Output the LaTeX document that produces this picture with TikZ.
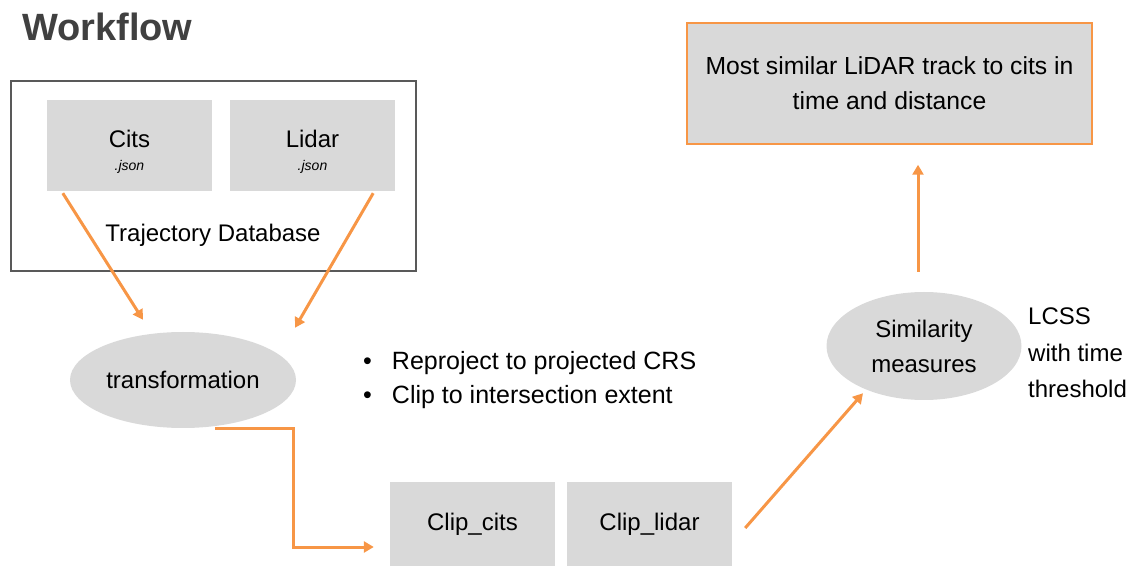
\documentclass[tikz,border=0pt]{standalone}
\usepackage{fontspec}
\setmainfont{Liberation Sans}
\usetikzlibrary{arrows.meta,shapes.geometric,calc}
\definecolor{boxgray}{HTML}{D9D9D9}
\definecolor{orng}{HTML}{F79646}
\definecolor{framegray}{HTML}{595959}
\definecolor{titlegray}{HTML}{404040}
\begin{document}
\begin{tikzpicture}[x=1pt,y=-1pt,
  graybox/.style={fill=boxgray, inner sep=0pt, font=\fontsize{24}{28}\selectfont, align=center},
  grayell/.style={ellipse, fill=boxgray, inner sep=0pt, font=\fontsize{24}{35}\selectfont, align=center},
  txt/.style={inner sep=0pt, font=\fontsize{24}{28}\selectfont},
  smalltxt/.style={inner sep=0pt, font=\fontsize{14}{16}\selectfont\itshape},
  flow/.style={draw=orng, line width=3pt, -{Triangle[length=10pt,width=11pt]}}]
\useasboundingbox (0,0) rectangle (1136,569);

% title
\node[anchor=base west, inner sep=0pt, font=\fontsize{38}{40}\selectfont\bfseries, text=titlegray] (title) at (22,41) {Workflow};

% trajectory database frame
\node[draw=framegray, line width=2.5pt, minimum width=405pt, minimum height=190pt, inner sep=0pt] (db) at (213.5,176) {};
\node[graybox, minimum width=165pt, minimum height=91pt] (cits) at (129.5,145.5) {};
\node[graybox, minimum width=165pt, minimum height=91pt] (lidar) at (312.5,145.5) {};
\node[txt, anchor=base] (citsT) at (129.5,148) {Cits};
\node[smalltxt, anchor=base] (citsJ) at (129.5,171) {.json};
\node[txt, anchor=base] (lidarT) at (312.5,148) {Lidar};
\node[smalltxt, anchor=base] (lidarJ) at (312.5,171) {.json};
\node[txt, anchor=base] (dbT) at (213,242) {Trajectory Database};

% transformation
\node[grayell, minimum width=226pt, minimum height=96pt] (trans) at (183,380) {transformation};
\node[anchor=base west, inner sep=0pt, font=\fontsize{25}{34}\selectfont] (bul) at (363,370)
  {\begin{tabular}[t]{@{}l@{\hspace{20pt}}l@{}}\textbullet & Reproject to projected CRS\\ \textbullet & Clip to intersection extent\end{tabular}};

% clipped tracks
\node[graybox, minimum width=165pt, minimum height=84pt] (clipc) at (472.5,524) {Clip\_cits};
\node[graybox, minimum width=165pt, minimum height=84pt] (clipl) at (649.5,524) {Clip\_lidar};

% similarity
\node[grayell, minimum width=195pt, minimum height=108pt] (sim) at (924,346) {Similarity\\measures};
\node[anchor=west, inner sep=0pt, align=left, font=\fontsize{24}{36.5}\selectfont] (lcss) at (1028,353) {LCSS\\with time\\threshold};

% result
\node[graybox, draw=orng, line width=1.5pt, minimum width=405pt, minimum height=121pt, font=\fontsize{24.7}{35}\selectfont] (res) at (889.5,83.5) {Most similar LiDAR track to cits in\\time and distance};

% connectors
\coordinate (a1) at ($(cits.south west)+(16,2)$);
\coordinate (a1e) at ($(trans.north)+(-40,-12)$);
\draw[flow] (a1) -- (a1e);
\coordinate (a2) at ($(lidar.south east)+(-22,2)$);
\coordinate (a2e) at ($(trans.north)+(112,-4)$);
\draw[flow] (a2) -- (a2e);
\coordinate (a3) at ($(trans.south)+(32,0)$);
\coordinate (a3e) at ($(clipc.west)+(-16,23)$);
\draw[flow] (a3) -- ++(78,0) |- (a3e);
\coordinate (a4) at ($(clipl.east)+(13,4)$);
\coordinate (a4e) at ($(sim.south)+(-61,-7)$);
\draw[flow] (a4) -- (a4e);
\coordinate (a5) at ($(sim.north)+(-6,-20)$);
\coordinate (a5e) at ($(res.south)+(28.5,20)$);
\draw[flow] (a5) -- (a5e);
\end{tikzpicture}
\end{document}
